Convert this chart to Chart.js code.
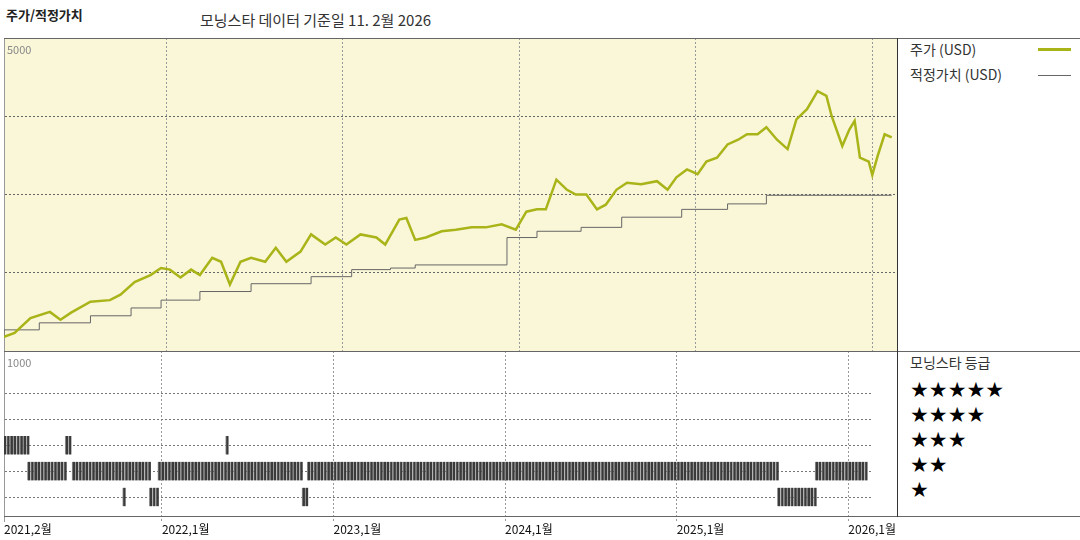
<!DOCTYPE html>
<html><head><meta charset="utf-8">
<script src="https://cdn.jsdelivr.net/npm/chart.js@4"></script>
<style>
body{margin:0;width:1080px;height:540px;background:#fff;position:relative;font-family:"Noto Sans CJK KR",sans-serif;overflow:hidden}
.t{position:absolute;white-space:nowrap;color:#222}
.s{position:absolute;left:910px;white-space:nowrap;font-size:21px;line-height:21px;color:#000;font-family:"DejaVu Sans",sans-serif}
canvas{position:absolute}
</style></head><body>
<div class="t" style="left:6px;top:5px;font-size:13px;font-weight:bold">주가/적정가치</div>
<div class="t" style="left:200px;top:9px;font-size:15px;color:#333">모닝스타 데이터 기준일 11. 2월 2026</div>
<canvas id="c1" width="897" height="313" style="left:0;top:38px"></canvas>
<canvas id="c2" width="897" height="187" style="left:0;top:351px"></canvas>
<div style="position:absolute;left:4px;top:38px;width:1076px;height:1px;background:#666"></div>
<div style="position:absolute;left:4px;top:351px;width:1076px;height:1px;background:#666"></div>
<div style="position:absolute;left:4px;top:516px;width:1076px;height:1px;background:#666"></div>
<div style="position:absolute;left:897px;top:38px;width:1px;height:479px;background:#333"></div>
<div class="t" style="left:910px;top:39px;font-size:14px;color:#333">주가 (USD)</div>
<div style="position:absolute;left:1038px;top:48px;width:33px;height:3px;background:#a9b418"></div>
<div class="t" style="left:910px;top:64px;font-size:14px;color:#333">적정가치 (USD)</div>
<div style="position:absolute;left:1038px;top:75px;width:33px;height:1px;background:#666"></div>
<div class="t" style="left:910px;top:352px;font-size:14px;color:#333">모닝스타 등급</div>
<div class="s" style="top:380px">★★★★★</div>
<div class="s" style="top:405px">★★★★</div>
<div class="s" style="top:430px">★★★</div>
<div class="s" style="top:455px">★★</div>
<div class="s" style="top:480px">★</div>
<div class="t" style="left:7px;top:41px;font-size:11px;color:#888">5000</div>
<div class="t" style="left:7px;top:354px;font-size:11px;color:#888">1000</div>
<script>
const priceDates=[2021.08,2021.14,2021.23,2021.34,2021.40,2021.46,2021.57,2021.68,2021.74,2021.82,2021.91,2021.97,2022.02,2022.08,2022.14,2022.19,2022.26,2022.31,2022.36,2022.42,2022.48,2022.56,2022.62,2022.68,2022.76,2022.82,2022.90,2022.96,2023.02,2023.10,2023.19,2023.24,2023.32,2023.36,2023.41,2023.47,2023.56,2023.64,2023.73,2023.81,2023.90,2023.98,2024.04,2024.10,2024.15,2024.21,2024.27,2024.32,2024.38,2024.44,2024.49,2024.55,2024.61,2024.69,2024.78,2024.84,2024.89,2024.95,2025.01,2025.06,2025.12,2025.18,2025.24,2025.29,2025.35,2025.40,2025.46,2025.52,2025.57,2025.63,2025.69,2025.74,2025.77,2025.83,2025.87,2025.90,2025.93,2025.98,2026.00,2026.03,2026.07,2026.11];
const priceValues=[1180,1230,1420,1500,1400,1490,1630,1650,1720,1880,1970,2060,2040,1940,2040,1970,2190,2140,1850,2140,2190,2140,2320,2140,2270,2490,2360,2450,2360,2490,2450,2360,2680,2700,2420,2450,2530,2550,2580,2580,2620,2550,2780,2810,2810,3190,3060,3000,3000,2810,2870,3060,3150,3130,3170,3060,3220,3320,3260,3420,3470,3640,3700,3770,3770,3860,3700,3580,3960,4090,4320,4260,4000,3620,3830,3940,3470,3420,3250,3490,3770,3730];
const fairDates=[2021.08,2021.28,2021.57,2021.80,2021.97,2022.19,2022.48,2022.82,2023.05,2023.27,2023.41,2023.93,2024.10,2024.35,2024.58,2024.92,2025.18,2025.40,2025.83,2026.11];
const fairValues=[1170,1270,1360,1450,1550,1650,1760,1860,1950,2040,2060,2100,2450,2530,2580,2710,2810,2880,2990,2990];
// rating periods: [start, end, stars]
const ratingStart=[2021.08,2021.22,2021.44,2021.48,2021.78,2021.93,2021.98,2022.38,2022.82,2022.85,2025.59,2025.81];
const ratingEnd  =[2021.22,2021.44,2021.48,2021.93,2021.78,2021.98,2022.82,2022.38,2022.85,2025.59,2025.81,2026.11];
const ratingStars=[3,2,3,2,1,1,2,3,1,2,1,2];
const xTicks=[2021.08,2022,2023,2024,2025,2026];
const xTickLabels=['2021,2월','2022,1월','2023,1월','2024,1월','2025,1월','2026,1월'];

const XMIN=2021.08,XMAX=2026.14;
const bg={id:'bg',beforeDraw(c){const a=c.chartArea,x=c.ctx;x.save();x.fillStyle='#faf6d8';x.fillRect(a.left,a.top,a.right-a.left,a.bottom-a.top);x.restore();}};
function xScale(show){return {type:'linear',min:XMIN,max:XMAX,offset:false,
  afterBuildTicks(s){s.ticks=xTicks.map(v=>({value:v}));},
  grid:{color:'#999',drawTicks:false,offset:false},border:{display:false,dash:[2,2]},
  ticks:{display:show,autoSkip:false,align:'start',maxRotation:0,color:'#111',font:{family:'Noto Sans CJK KR',size:12},padding:1,
    callback:(v,i)=>xTickLabels[i]}};}

new Chart(document.getElementById('c1'),{type:'line',
 data:{datasets:[
  {data:priceDates.map((d,i)=>({x:d,y:priceValues[i]})),borderColor:'#a9b418',borderWidth:2.5,pointRadius:0,tension:0},
  {data:fairDates.map((d,i)=>({x:d,y:fairValues[i]})),borderColor:'#666',borderWidth:1,pointRadius:0,stepped:'after'}]},
 options:{responsive:false,animation:false,devicePixelRatio:1,layout:{padding:{left:4,right:0,top:0,bottom:0}},
  plugins:{legend:{display:false},tooltip:{enabled:false}},
  scales:{x:xScale(false),
   y:{min:1000,max:5000,afterBuildTicks(s){s.ticks=[2000,3000,4000].map(v=>({value:v}));},
    ticks:{display:false},grid:{color:'#666',drawTicks:false},border:{display:true,color:'#999',dash:[2,2]}}}},
 plugins:[bg]});

const bars=[];
ratingStars.forEach((r,k)=>{const s=ratingStart[k],e=ratingEnd[k];
  if(e-s<0.01){bars.push({x:s,y:[r-0.36,r+0.36]});return;}
  for(let t=s+0.005;t<=e;t+=1/52)bars.push({x:t,y:[r-0.36,r+0.36]});});
new Chart(document.getElementById('c2'),{type:'bar',
 data:{datasets:[{data:bars,backgroundColor:'#3a3a3a',borderColor:'#999',borderWidth:{left:1,right:0,top:0,bottom:0},borderSkipped:false,barThickness:3,grouped:false}]},
 options:{responsive:false,animation:false,devicePixelRatio:1,layout:{padding:{left:4,right:0,top:0,bottom:0}},
  plugins:{legend:{display:false},tooltip:{enabled:false}},
  scales:{x:xScale(true),
   y:{min:0.05,max:6.64,afterBuildTicks(s){s.ticks=[1,2,3,4,5].map(v=>({value:v}));},
    ticks:{display:false},grid:{color:'#777',drawTicks:false},border:{display:true,color:'#999',dash:[2,2]}}}}});
</script>
</body></html>
